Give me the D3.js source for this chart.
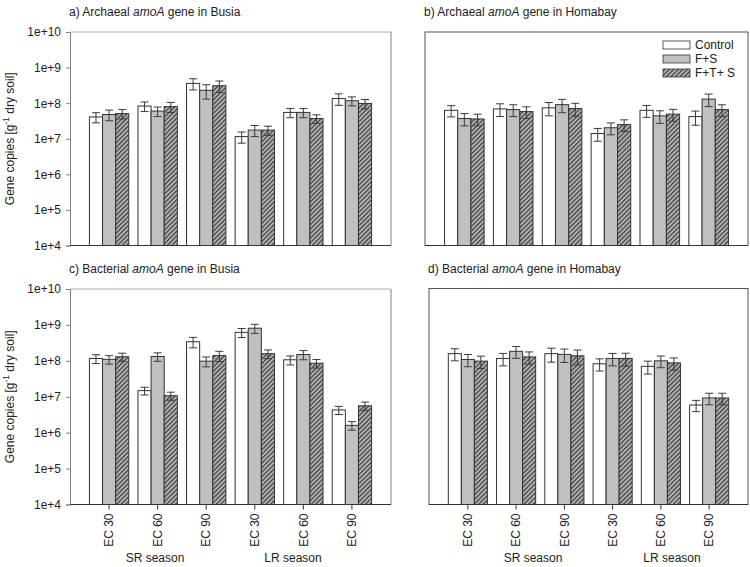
<!DOCTYPE html>
<html>
<head>
<meta charset="utf-8">
<script src="https://cdn.jsdelivr.net/npm/d3@7"></script>
<style>
  html, body { margin: 0; padding: 0; background: #fff; }
  svg { display: block; font-family: "Liberation Sans", Arial, sans-serif; }
</style>
</head>
<body>
<svg id="chart" width="750" height="567"></svg>
<script>
// ---------------- DATA ----------------
const categories = ["EC 30", "EC 60", "EC 90", "EC 30", "EC 60", "EC 90"];
const seasons = ["SR season", "LR season"];
const seriesNames = ["Control", "F+S", "F+T+ S"];
const yTickValues = [1e4, 1e5, 1e6, 1e7, 1e8, 1e9, 1e10];

// a) Archaeal amoA gene in Busia
const archBusiaControl = [4.1e7, 8.3e7, 3.6e8, 1.15e7, 5.5e7, 1.35e8];
const archBusiaFS      = [4.8e7, 6.0e7, 2.3e8, 1.75e7, 5.5e7, 1.17e8];
const archBusiaFTS     = [5.1e7, 8.0e7, 3.1e8, 1.75e7, 3.7e7, 9.8e7];
const archBusiaControlErr = [1.3e7, 2.5e7, 1.25e8, 4.0e6, 1.6e7, 4.8e7];
const archBusiaFSErr      = [1.6e7, 1.8e7, 1.0e8, 6.0e6, 1.6e7, 3.3e7];
const archBusiaFTSErr     = [1.5e7, 2.5e7, 1.1e8, 5.0e6, 1.0e7, 2.9e7];

// b) Archaeal amoA gene in Homabay
const archHomaControl = [6.3e7, 6.9e7, 7.4e7, 1.4e7, 6.3e7, 4.2e7];
const archHomaFS      = [3.7e7, 6.6e7, 9.1e7, 2.04e7, 4.4e7, 1.3e8];
const archHomaFTS     = [3.6e7, 5.8e7, 7.1e7, 2.5e7, 4.9e7, 6.6e7];
const archHomaControlErr = [2.2e7, 2.7e7, 3.0e7, 5.5e6, 2.3e7, 1.8e7];
const archHomaFSErr      = [1.4e7, 2.4e7, 3.7e7, 7.5e6, 1.7e7, 5.0e7];
const archHomaFTSErr     = [1.3e7, 2.1e7, 2.8e7, 9.0e6, 1.8e7, 2.4e7];

// c) Bacterial amoA gene in Busia
const bactBusiaControl = [1.16e8, 1.48e7, 3.4e8, 6.2e8, 1.07e8, 4.3e6];
const bactBusiaFS      = [1.1e8, 1.32e8, 9.8e7, 8.1e8, 1.5e8, 1.6e6];
const bactBusiaFTS     = [1.3e8, 1.07e7, 1.4e8, 1.58e8, 8.6e7, 5.6e6];
const bactBusiaControlErr = [3.2e7, 3.6e6, 1.1e8, 1.75e8, 3.0e7, 1.1e6];
const bactBusiaFSErr      = [2.9e7, 3.5e7, 3.0e7, 2.3e8, 4.3e7, 4.3e5];
const bactBusiaFTSErr     = [3.3e7, 2.7e6, 4.4e7, 4.3e7, 2.3e7, 1.5e6];

// d) Bacterial amoA gene in Homabay
const bactHomaControl = [1.55e8, 1.14e8, 1.55e8, 8.1e7, 6.9e7, 5.8e6];
const bactHomaFS      = [1.07e8, 1.8e8, 1.48e8, 1.14e8, 9.8e7, 9.1e6];
const bactHomaFTS     = [9.6e7, 1.26e8, 1.35e8, 1.14e8, 8.6e7, 9.1e6];
const bactHomaControlErr = [5.7e7, 4.3e7, 6.5e7, 3.0e7, 2.7e7, 2.0e6];
const bactHomaFSErr      = [4.0e7, 6.5e7, 6.0e7, 4.3e7, 3.5e7, 3.2e6];
const bactHomaFTSErr     = [3.6e7, 4.7e7, 6.0e7, 4.5e7, 3.2e7, 3.2e6];

// ---------------- LAYOUT ----------------
const FONT = 12;
const panels = [
  { letter: "a) Archaeal ", gene: "amoA", place: " gene in Busia",
    vals: [archBusiaControl, archBusiaFS, archBusiaFTS],
    errs: [archBusiaControlErr, archBusiaFSErr, archBusiaFTSErr],
    left: 70, right: 391, top: 32, bottom: 245.5, titleY: 16,
    yLabels: true, xLabels: false, box: "open", legend: false },
  { letter: "b) Archaeal ", gene: "amoA", place: " gene in Homabay",
    vals: [archHomaControl, archHomaFS, archHomaFTS],
    errs: [archHomaControlErr, archHomaFSErr, archHomaFTSErr],
    left: 425, right: 748, top: 32, bottom: 245.5, titleY: 16,
    yLabels: false, xLabels: false, box: "full", legend: true },
  { letter: "c) Bacterial ", gene: "amoA", place: " gene in Busia",
    vals: [bactBusiaControl, bactBusiaFS, bactBusiaFTS],
    errs: [bactBusiaControlErr, bactBusiaFSErr, bactBusiaFTSErr],
    left: 70, right: 391, top: 289, bottom: 504.5, titleY: 273,
    yLabels: true, xLabels: true, box: "open", legend: false,
    seasonX: [155, 293] },
  { letter: "d) Bacterial ", gene: "amoA", place: " gene in Homabay",
    vals: [bactHomaControl, bactHomaFS, bactHomaFTS],
    errs: [bactHomaControlErr, bactHomaFSErr, bactHomaFTSErr],
    left: 429, right: 748, top: 288.5, bottom: 504.5, titleY: 273,
    yLabels: false, xLabels: true, box: "full", legend: false,
    seasonX: [533, 672] }
];

const fills = ["#ffffff", "#c0c0c0", "url(#hatch)"];
const textColor = "#222";

const svg = d3.select("#chart");

// hatch pattern
const defs = svg.append("defs");
const pat = defs.append("pattern")
  .attr("id", "hatch")
  .attr("patternUnits", "userSpaceOnUse")
  .attr("width", 3.2).attr("height", 10)
  .attr("patternTransform", "rotate(45)");
pat.append("rect").attr("width", 3.2).attr("height", 10).attr("fill", "#b4b4b4");
pat.append("line").attr("x1", 0.6).attr("x2", 0.6).attr("y1", 0).attr("y2", 10)
  .attr("stroke", "#3a3a3a").attr("stroke-width", 1.2);

panels.forEach(p => {
  const g = svg.append("g");
  const x = d3.scaleBand().domain(d3.range(categories.length))
    .range([p.left, p.right]).paddingInner(0.19).paddingOuter(0.4);
  const xs = d3.scaleBand().domain(d3.range(seriesNames.length))
    .range([0, x.bandwidth()]).padding(0);
  const y = d3.scaleLog().domain([1e4, 1e10]).range([p.bottom, p.top]);

  // frame
  if (p.box === "full") {
    g.append("rect").attr("x", p.left).attr("y", p.top)
      .attr("width", p.right - p.left).attr("height", p.bottom - p.top)
      .attr("fill", "none").attr("stroke", "#555").attr("stroke-width", 1);
  } else {
    g.append("line").attr("x1", p.left).attr("x2", p.right)
      .attr("y1", p.top).attr("y2", p.top).attr("stroke", "#b0b0b0");
    g.append("line").attr("x1", p.right).attr("x2", p.right)
      .attr("y1", p.top).attr("y2", p.bottom).attr("stroke", "#808080");
  }

  // bars
  p.vals.forEach((arr, si) => {
    g.append("g").selectAll("rect").data(arr).join("rect")
      .attr("x", (d, i) => x(i) + xs(si))
      .attr("y", d => y(d))
      .attr("width", xs.bandwidth())
      .attr("height", d => y(1e4) - y(d))
      .attr("fill", fills[si])
      .attr("stroke", "#333").attr("stroke-width", 1);
  });

  // error bars
  p.vals.forEach((arr, si) => {
    const eg = g.append("g").attr("stroke", "#3a3a3a").attr("stroke-width", 1).attr("fill", "none");
    arr.forEach((v, i) => {
      const e = p.errs[si][i];
      const cx = x(i) + xs(si) + xs.bandwidth() / 2;
      const y1 = y(v + e), y2 = y(Math.max(v - e, 1e4));
      eg.append("line").attr("x1", cx).attr("x2", cx).attr("y1", y1).attr("y2", y2);
      eg.append("line").attr("x1", cx - 4).attr("x2", cx + 4).attr("y1", y1).attr("y2", y1);
      eg.append("line").attr("x1", cx - 4).attr("x2", cx + 4).attr("y1", y2).attr("y2", y2);
    });
  });

  // y axis
  if (p.yLabels) {
    const ya = d3.axisLeft(y).tickValues(yTickValues)
      .tickFormat(d => "1e+" + Math.round(Math.log10(d)))
      .tickSize(4).tickPadding(5);
    const ag = g.append("g").attr("transform", `translate(${p.left},0)`).call(ya);
    ag.select(".domain").attr("stroke", "#808080");
    ag.selectAll(".tick line").attr("stroke", "#808080");
    ag.selectAll("text").attr("font-size", FONT).attr("fill", textColor)
      .attr("font-family", '"Liberation Sans", Arial, sans-serif');

    const lbl = g.append("text")
      .attr("transform", `translate(14,${(p.top + p.bottom) / 2}) rotate(-90)`)
      .attr("text-anchor", "middle").attr("font-size", FONT).attr("fill", textColor);
    lbl.append("tspan").text("Gene copies [g");
    lbl.append("tspan").text("-1").attr("font-size", FONT * 0.7).attr("dy", -5);
    lbl.append("tspan").text(" dry soil]").attr("dy", 5);
  }

  // x axis
  const xa = d3.axisBottom(x).tickFormat(i => categories[i]).tickSize(p.xLabels ? 5 : 0);
  const xg = g.append("g").attr("transform", `translate(0,${p.bottom})`).call(xa);
  xg.select(".domain").attr("stroke", "#333").attr("d", `M${p.left},0H${p.right}`);
  xg.selectAll(".tick line").attr("stroke", "#333");
  if (p.xLabels) {
    xg.selectAll("text")
      .attr("font-size", FONT).attr("fill", textColor)
      .attr("font-family", '"Liberation Sans", Arial, sans-serif')
      .attr("text-anchor", "end")
      .attr("transform", "rotate(-90)")
      .attr("x", -9).attr("y", 0).attr("dy", "0.35em");
    seasons.forEach((s, k) => {
      g.append("text").attr("x", p.seasonX[k]).attr("y", 562)
        .attr("text-anchor", "middle").attr("font-size", FONT).attr("fill", textColor)
        .text(s);
    });
  } else {
    xg.selectAll("text").remove();
  }

  // title
  const t = g.append("text").attr("x", p.left - 1).attr("y", p.titleY)
    .attr("font-size", FONT).attr("fill", textColor);
  t.append("tspan").text(p.letter);
  t.append("tspan").text(p.gene).attr("font-style", "italic");
  t.append("tspan").text(p.place);

  // legend
  if (p.legend) {
    const lg = g.append("g");
    seriesNames.forEach((n, si) => {
      const yy = 45 + si * 14;
      lg.append("rect").attr("x", 663).attr("y", yy - 4).attr("width", 27).attr("height", 8)
        .attr("fill", fills[si]).attr("stroke", "#333").attr("stroke-width", 0.8);
      lg.append("text").attr("x", 695).attr("y", yy).attr("dy", "0.35em")
        .attr("font-size", FONT).attr("fill", textColor).text(n);
    });
  }
});
</script>
</body>
</html>
